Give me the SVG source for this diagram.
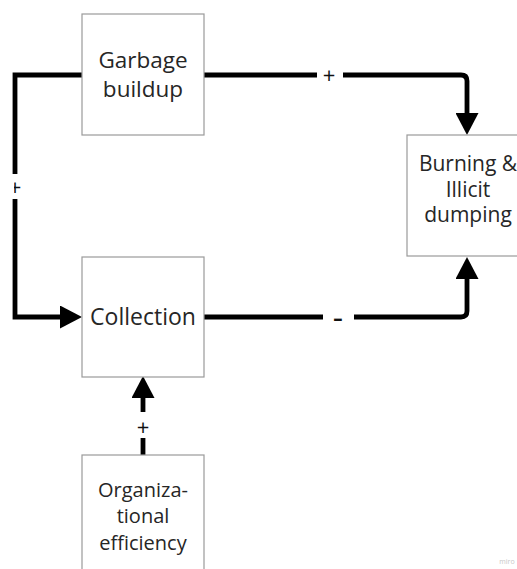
<svg xmlns="http://www.w3.org/2000/svg" width="517" height="569" viewBox="0 0 517 569">
<style>
.box{fill:#fff;stroke:#9a9a9a;stroke-width:1.2}
.t{font-family:"Open Sans","DejaVu Sans",sans-serif;fill:#262626;text-anchor:middle}
.ln{fill:none;stroke:#000;stroke-width:4.8}
.lbl{font-family:"Open Sans","DejaVu Sans",sans-serif;fill:#111;text-anchor:middle}
.bg{fill:#fff}
</style>
<defs>
<marker id="ah" markerUnits="userSpaceOnUse" markerWidth="23" markerHeight="23" refX="0" refY="11.5" orient="auto">
<path d="M0,0 L22,11.5 L0,23 Z" fill="#000"/>
</marker>
<clipPath id="cl"><rect x="14" y="170" width="20" height="30"/></clipPath>
</defs>
<rect width="517" height="569" fill="#fff"/>
<g id="connectors">
<path class="ln" d="M204,75 H461 Q467,75 467,81 V113" marker-end="url(#ah)"/>
<rect class="bg" x="317" y="66" width="26" height="18"/>
<text class="lbl" x="329" y="83" font-size="22">+</text>
<path class="ln" d="M204,317 H461 Q467,317 467,311 V279" marker-end="url(#ah)"/>
<rect class="bg" x="323" y="308" width="31" height="18"/>
<text class="lbl" x="338" y="329" font-size="32">-</text>
<path class="ln" d="M82,75 H15 V317 H60" marker-end="url(#ah)"/>
<rect class="bg" x="8" y="174" width="16" height="25"/>
<text class="lbl" x="15" y="195" font-size="22" clip-path="url(#cl)">+</text>
<path class="ln" d="M143,455 V398" marker-end="url(#ah)"/>
<rect class="bg" x="134" y="412" width="18" height="26"/>
<text class="lbl" x="143" y="435" font-size="22">+</text>
</g>
<g id="garbage">
<rect class="box" x="82" y="14" width="122" height="121"/>
<text class="t" x="143" y="68" font-size="22.5">Garbage</text>
<text class="t" x="143" y="97" font-size="22.5">buildup</text>
</g>
<g id="collection">
<rect class="box" x="82" y="257" width="122" height="120"/>
<text class="t" x="143" y="325" font-size="23">Collection</text>
</g>
<g id="burning">
<rect class="box" x="407" y="135" width="122" height="121"/>
<text class="t" x="468" y="171" font-size="21">Burning &amp;</text>
<text class="t" x="468" y="196.7" font-size="21">Illicit</text>
<text class="t" x="468" y="222.4" font-size="21">dumping</text>
</g>
<g id="organizational">
<rect class="box" x="82" y="455" width="122" height="121"/>
<text class="t" x="143" y="497" font-size="20">Organiza-</text>
<text class="t" x="143" y="523" font-size="20">tional</text>
<text class="t" x="143" y="550" font-size="20">efficiency</text>
</g>
<text x="507" y="564" font-family="'Open Sans',sans-serif" font-size="7" fill="#c8c8c8" text-anchor="middle">miro</text>
</svg>
